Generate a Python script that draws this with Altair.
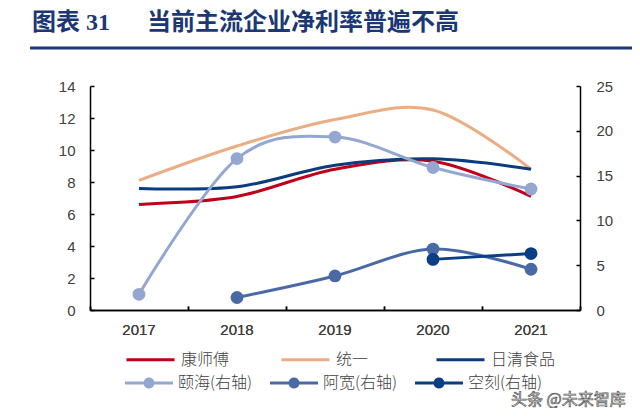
import altair as alt
import pandas as pd

years = ["2017", "2018", "2019", "2020", "2021"]

left_names = ["康师傅", "统一", "日清食品"]
left_colors = ["#C0001A", "#EBAE84", "#0B3C7E"]
kangshifu = [6.6, 7.1, 8.8, 9.3, 7.1]
tongyi = [8.1, 10.25, 11.9, 12.5, 8.8]
riqing = [7.6, 7.7, 9.05, 9.45, 8.8]

right_names = ["颐海(右轴)", "阿宽(右轴)", "空刻(右轴)"]
right_colors = ["#93A7D0", "#4A6AA6", "#0A3F86"]
yihai = [1.75, 16.9, 19.3, 15.9, 13.5]
akuan = [None, 1.4, 3.8, 6.8, 4.55]
kongke = [None, None, None, 5.65, 6.3]

left_ticks = [0, 2, 4, 6, 8, 10, 12, 14]
right_ticks = [0, 5, 10, 15, 20, 25]

title_a = "图表 31"
title_b = "当前主流企业净利率普遍不高"
watermark = "头条 @未来智库"


def long(names, series):
    rows = []
    for n, vals in zip(names, series):
        for y, v in zip(years, vals):
            if v is not None:
                rows.append({"year": y, "series": n, "value": v})
    return pd.DataFrame(rows)


df_left = long(left_names, [kangshifu, tongyi, riqing])
df_right = long(right_names, [yihai, akuan, kongke])

LABEL_FONT = "Liberation Sans"
CJK = "Noto Sans CJK SC"
GRAY = "#404040"
NAVY = "#1C3874"
W, H = 490, 224

x_scale = alt.Scale(type="band", domain=years, paddingInner=0, paddingOuter=0)

# bottom axis: domain + labels, no ticks
x_main = alt.X(
    "year:O", bandPosition=0.5, scale=x_scale,
    axis=alt.Axis(
        title=None, labelAngle=0, ticks=False, domainColor="black",
        domainWidth=1.5, labelFont=LABEL_FONT, labelFontSize=15,
        labelColor=GRAY, labelPadding=12,
    ),
)
# inward ticks at band boundaries (top-oriented axis moved onto the bottom edge)
x_ticks = alt.X(
    "year:O", bandPosition=0.5, scale=x_scale,
    axis=alt.Axis(
        title=None, orient="top", offset=-H, labels=False, domain=False,
        tickBand="extent", tickColor="black", tickWidth=1.5, tickSize=4,
    ),
)

left_scale = alt.Scale(domain=[0, 14], nice=False)
right_scale = alt.Scale(domain=[0, 25], nice=False)

left_color = alt.Color(
    "series:N",
    sort=left_names,
    scale=alt.Scale(domain=left_names, range=left_colors),
    legend=alt.Legend(
        title=None, orient="none", legendX=35, legendY=248,
        direction="horizontal", columns=3, symbolType="stroke",
        symbolSize=2304, symbolStrokeWidth=3, labelFont=CJK,
        labelFontSize=16, labelFontWeight=300, labelColor=GRAY, labelOffset=5,
        columnPadding=29, gridAlign="all", padding=0,
    ),
)

left_lines = alt.Chart(df_left).mark_line(
    strokeWidth=3, interpolate="cardinal"
).encode(
    x=x_main,
    y=alt.Y(
        "value:Q", scale=left_scale,
        axis=alt.Axis(
            title=None, orient="left", values=left_ticks, grid=False,
            domainColor="black", domainWidth=1.5, ticks=False,
            labelFont=LABEL_FONT, labelFontSize=15, labelColor=GRAY,
            labelPadding=15,
        ),
    ),
    color=left_color,
    order=alt.Order("year:O"),
)

# invisible copy that carries the inward ticks of the left axis
left_tick_layer = alt.Chart(df_left).mark_line(opacity=0).encode(
    x=x_ticks,
    y=alt.Y(
        "value:Q", scale=left_scale,
        axis=alt.Axis(
            title=None, orient="right", offset=-W, values=left_ticks,
            grid=False, labels=False, domain=False, tickColor="black",
            tickWidth=1.5, tickSize=4,
        ),
    ),
    detail="series:N",
)

DOT_PATH = ("M-1,-0.0625H-0.2214A0.23,0.23 0 0,1 0.2214,-0.0625H1V0.0625"
            "H0.2214A0.23,0.23 0 0,1 -0.2214,0.0625H-1Z")

right_y = alt.Y(
    "value:Q", scale=right_scale,
    axis=alt.Axis(
        title=None, orient="right", values=right_ticks, grid=False,
        domainColor="black", domainWidth=1.5, ticks=False,
        labelFont=LABEL_FONT, labelFontSize=15, labelColor=GRAY,
        labelPadding=16,
    ),
)
right_color = alt.Color(
    "series:N",
    sort=right_names,
    scale=alt.Scale(domain=right_names, range=right_colors),
    legend=alt.Legend(
        title=None, orient="none", legendX=35, legendY=273,
        direction="horizontal", columns=3, symbolType=DOT_PATH,
        symbolSize=2304, symbolStrokeWidth=0, labelFont=CJK,
        labelFontSize=16, labelFontWeight=300, labelColor=GRAY, labelOffset=5,
        columnPadding=17, gridAlign="all", padding=0,
    ),
)

right_base = alt.Chart(df_right).encode(x=x_main, y=right_y, color=right_color)
right_lines = right_base.mark_line(strokeWidth=3, interpolate="cardinal").encode(
    order=alt.Order("year:O")
)
right_points = right_base.mark_circle(size=165, opacity=1)
right = alt.layer(right_lines, right_points)

right_tick_layer = alt.Chart(df_right).mark_line(opacity=0).encode(
    x=x_ticks,
    y=alt.Y(
        "value:Q", scale=right_scale,
        axis=alt.Axis(
            title=None, orient="left", offset=-W, values=right_ticks,
            grid=False, labels=False, domain=False, tickColor="black",
            tickWidth=1.5, tickSize=4,
        ),
    ),
    detail="series:N",
)

titles = alt.Chart(pd.DataFrame({"t": [title_a]})).mark_text(
    font="Liberation Serif, Noto Sans CJK SC", fontSize=24, fontWeight="bold",
    color=NAVY, align="left", baseline="middle",
).encode(x=alt.value(-58), y=alt.value(-63), text="t:N")

titles_b = alt.Chart(pd.DataFrame({"t": [title_b]})).mark_text(
    font=CJK, fontSize=24, fontWeight="bold", color=NAVY, align="left",
    baseline="middle",
).encode(x=alt.value(57), y=alt.value(-63), text="t:N")

rule = alt.Chart(pd.DataFrame({"a": [0]})).mark_rule(
    color=NAVY, strokeWidth=3
).encode(x=alt.value(-60), x2=alt.value(547), y=alt.value(-38))

wm = alt.Chart(pd.DataFrame({"t": [watermark]})).mark_text(
    font=CJK, fontSize=16, color="#ffffff", stroke="#555555", strokeWidth=0.7,
    align="left", baseline="middle",
).encode(x=alt.value(421), y=alt.value(314), text="t:N")

chart = alt.layer(
    left_lines, left_tick_layer, right, right_tick_layer,
    titles, titles_b, rule, wm,
).resolve_scale(
    y="independent", color="independent"
).resolve_axis(
    x="independent", y="independent"
).properties(
    width=W, height=H,
    autosize=alt.AutoSizeParams(type="none"),
    padding={"left": 82, "top": 78, "right": 52, "bottom": 98},
).configure_view(stroke=None)

chart.save("out.html", embed_options={"renderer": "svg", "actions": False})
